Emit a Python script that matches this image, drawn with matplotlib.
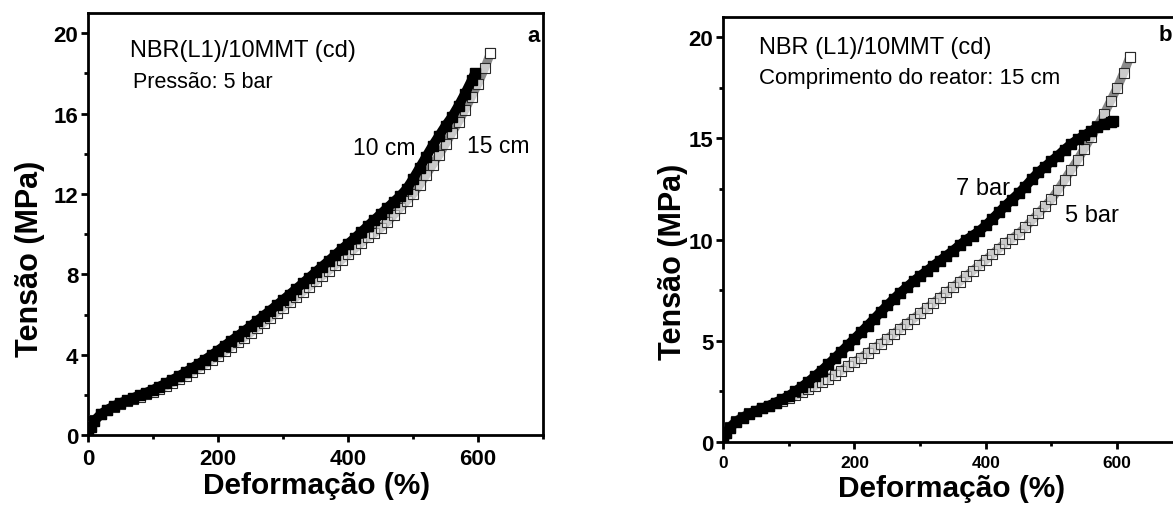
import numpy as np
import matplotlib.pyplot as plt
from matplotlib.ticker import MultipleLocator

plt.rcParams['font.family'] = ['Liberation Sans', 'DejaVu Sans']

# strain (%) / stress (MPa)
# panel a: 15 cm reactor (also the 5 bar curve in panel b)
x_15cm = [0, 5, 10, 20, 30, 40, 50, 60, 70, 80, 90, 100, 110, 120, 130, 140,
          150, 160, 170, 180, 190, 200, 210, 220, 230, 240, 250, 260, 270,
          280, 290, 300, 310, 320, 330, 340, 350, 360, 370, 380, 390, 400,
          410, 420, 430, 440, 450, 460, 470, 480, 490, 500, 510, 520, 530,
          540, 550, 560, 570, 580, 590, 600, 610, 619]
y_15cm = [0.0, 0.45, 0.75, 1.05, 1.25, 1.42, 1.55, 1.68, 1.80, 1.92, 2.03,
          2.15, 2.30, 2.45, 2.62, 2.78, 2.95, 3.13, 3.33, 3.53, 3.74, 3.95,
          4.17, 4.40, 4.63, 4.86, 5.10, 5.35, 5.60, 5.85, 6.10, 6.35, 6.61,
          6.87, 7.13, 7.39, 7.65, 7.92, 8.19, 8.46, 8.73, 9.00, 9.28, 9.56,
          9.84, 10.05, 10.30, 10.60, 10.95, 11.30, 11.65, 12.00, 12.45,
          12.95, 13.45, 13.95, 14.50, 15.05, 15.60, 16.20, 16.85, 17.50,
          18.25, 19.00]

# panel a: 10 cm reactor
x_10cm = [0, 5, 10, 20, 30, 40, 50, 60, 70, 80, 90, 100, 110, 120, 130, 140,
          150, 160, 170, 180, 190, 200, 210, 220, 230, 240, 250, 260, 270,
          280, 290, 300, 310, 320, 330, 340, 350, 360, 370, 380, 390, 400,
          410, 420, 430, 440, 450, 460, 470, 480, 490, 500, 510, 520, 530,
          540, 550, 560, 570, 580, 590, 595]
y_10cm = [0.0, 0.40, 0.72, 1.05, 1.27, 1.45, 1.60, 1.73, 1.86, 1.99, 2.12,
          2.26, 2.42, 2.58, 2.76, 2.94, 3.13, 3.33, 3.54, 3.76, 3.98, 4.21,
          4.45, 4.69, 4.93, 5.17, 5.42, 5.68, 5.94, 6.20, 6.46, 6.73, 7.00,
          7.27, 7.55, 7.83, 8.11, 8.39, 8.67, 8.96, 9.25, 9.52, 9.80, 10.10,
          10.40, 10.70, 11.00, 11.30, 11.60, 11.90, 12.25, 12.75, 13.30,
          13.85, 14.40, 14.90, 15.40, 15.85, 16.40, 17.00, 17.65, 18.00]

# panel b: 7 bar
x_7bar = [0, 5, 10, 20, 30, 40, 50, 60, 70, 80, 90, 100, 110, 120, 130, 140,
          150, 160, 170, 180, 190, 200, 210, 220, 230, 240, 250, 260, 270,
          280, 290, 300, 310, 320, 330, 340, 350, 360, 370, 380, 390, 400,
          410, 420, 430, 440, 450, 460, 470, 480, 490, 500, 510, 520, 530,
          540, 550, 560, 570, 580, 590, 593]
y_7bar = [0.0, 0.45, 0.70, 1.00, 1.20, 1.38, 1.52, 1.66, 1.80, 1.95, 2.10,
          2.28, 2.50, 2.73, 2.98, 3.25, 3.53, 3.83, 4.14, 4.46, 4.78, 5.10,
          5.42, 5.75, 6.08, 6.42, 6.75, 7.07, 7.38, 7.66, 7.94, 8.20, 8.45,
          8.70, 8.95, 9.20, 9.45, 9.72, 9.98, 10.20, 10.42, 10.70, 11.02,
          11.35, 11.68, 11.98, 12.28, 12.62, 12.98, 13.32, 13.60, 13.88,
          14.15, 14.45, 14.72, 14.95, 15.15, 15.35, 15.55, 15.72, 15.82,
          15.85]

fig = plt.figure(figsize=(11.73, 5.06), dpi=100)
ax1 = fig.add_axes([0.075, 0.138, 0.388, 0.834])
ax2 = fig.add_axes([0.6164, 0.1245, 0.392, 0.840])


def style(ax, ymaj, ymin_step, xsize, ysize):
    for s in ax.spines.values():
        s.set_linewidth(2.0)
    ax.tick_params(which='major', direction='out', length=5, width=2,
                   top=False, right=False)
    ax.tick_params(which='minor', direction='out', length=3, width=2,
                   top=False, right=False)
    ax.tick_params(axis='x', labelsize=xsize, pad=4)
    ax.tick_params(axis='y', labelsize=ysize, pad=2)
    ax.xaxis.set_major_locator(MultipleLocator(200))
    ax.xaxis.set_minor_locator(MultipleLocator(100))
    ax.yaxis.set_major_locator(MultipleLocator(ymaj))
    ax.yaxis.set_minor_locator(MultipleLocator(ymin_step))
    for lab in ax.get_xticklabels() + ax.get_yticklabels():
        lab.set_fontweight('bold')
    ax.set_xlim(0, 700)
    ax.set_ylim(0, 21)


def open_sq(ax, x, y):
    ax.plot(x, y, '-', color='#8a8a8a', lw=6.5, solid_capstyle='butt',
            zorder=2)
    ax.plot(x, y, 's', ms=6.5, mfc=(1, 1, 1, 0.55), mec='#2a2a2a',
            mew=0.8, zorder=3)
    ax.plot(x[-1], y[-1], 's', ms=6.5, mfc='white', mec='#2a2a2a',
            mew=0.8, zorder=3)


def solid_sq(ax, x, y):
    ax.plot(x, y, '-', color='black', lw=7, solid_capstyle='butt',
            zorder=4)
    ax.plot(x, y, 's', ms=6.5, color='black', zorder=4)


# panel a
solid_sq(ax1, x_10cm, y_10cm)
open_sq(ax1, x_15cm, y_15cm)
style(ax1, 4, 2, 16, 16)
ax1.set_xlabel('Deformação (%)', fontsize=21.5, fontweight='bold')
ax1.set_ylabel('Tensão (MPa)', fontsize=22, fontweight='bold')
ax1.xaxis.set_label_coords(0.503, -0.085)
ax1.yaxis.set_label_coords(-0.094, 0.42)
ax1.text(65, 19.15, 'NBR(L1)/10MMT (cd)', fontsize=17, va='center')
ax1.text(69, 17.6, 'Pressão: 5 bar', fontsize=15.5, va='center')
ax1.text(455, 14.3, '10 cm', fontsize=16.5, ha='center', va='center')
ax1.text(631, 14.4, '15 cm', fontsize=16.5, ha='center', va='center')
ax1.text(685, 19.9, 'a', fontsize=16, fontweight='bold', ha='center',
         va='center')

# panel b
open_sq(ax2, x_15cm, y_15cm)
solid_sq(ax2, x_7bar, y_7bar)
style(ax2, 5, 2.5, 12.5, 16)
ax2.set_xlabel('Deformação (%)', fontsize=21.5, fontweight='bold')
ax2.set_ylabel('Tensão (MPa)', fontsize=22, fontweight='bold')
ax2.xaxis.set_label_coords(0.498, -0.075)
ax2.yaxis.set_label_coords(-0.076, 0.426)
ax2.text(55, 19.5, 'NBR (L1)/10MMT (cd)', fontsize=17, va='center')
ax2.text(55, 18.0, 'Comprimento do reator: 15 cm', fontsize=16,
         va='center')
ax2.text(396, 12.55, '7 bar', fontsize=17, ha='center', va='center')
ax2.text(562, 11.2, '5 bar', fontsize=17, ha='center', va='center')
ax2.text(673, 20.15, 'b', fontsize=16, fontweight='bold', ha='center',
         va='center')

fig.savefig('out.png', dpi=100)
